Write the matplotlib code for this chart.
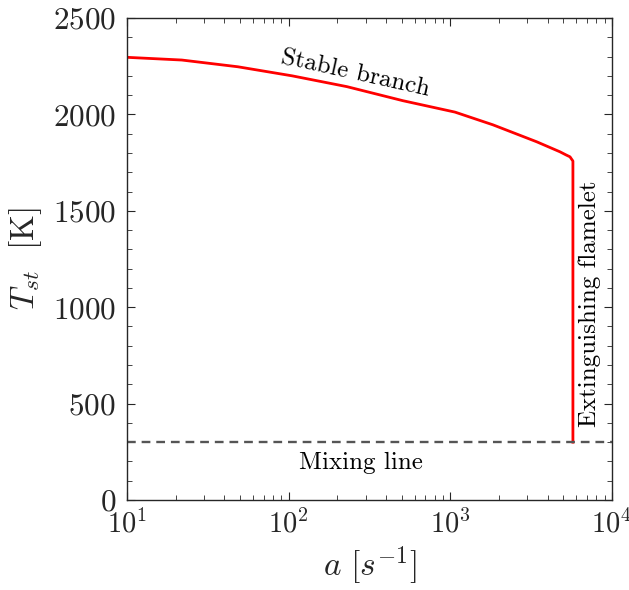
import numpy as np
import matplotlib
matplotlib.use("Agg")
import matplotlib.pyplot as plt
from matplotlib.ticker import MultipleLocator, LogLocator

plt.rcParams['font.family'] = 'serif'
plt.rcParams['font.serif'] = ['cmr10']
plt.rcParams['mathtext.fontset'] = 'cm'
plt.rcParams['axes.formatter.use_mathtext'] = True
plt.rcParams['axes.unicode_minus'] = False

# strain rate [1/s] and stoichiometric temperature [K] along the S-curve
strain_rate = [10, 21.8, 48.5, 105, 229, 509, 1067, 1833, 3420, 4764, 5190, 5495, 5730, 5730]
temp_st = [2296, 2282, 2247, 2200, 2144, 2071, 2012, 1946, 1858, 1806, 1790, 1780, 1758, 300]
mixing_temp = 300

fig = plt.figure(figsize=(6.29, 5.9), dpi=100)
ax = fig.add_axes([0.202, 0.1525, 0.771, 0.817])

ax.plot(strain_rate, temp_st, color='red', lw=2.0)
ax.axhline(mixing_temp, color='#555555', lw=1.7, ls=(0, (3.7, 2.5)))

ax.set_xscale('log')
ax.set_xlim(10, 1e4)
ax.set_ylim(0, 2500)
ax.yaxis.set_major_locator(MultipleLocator(500))
ax.yaxis.set_minor_locator(MultipleLocator(100))
ax.xaxis.set_major_locator(LogLocator(base=10, numticks=10))
ax.xaxis.set_minor_locator(LogLocator(base=10, subs=np.arange(2, 10), numticks=10))

dark = '#262626'
for s in ax.spines.values():
    s.set_color(dark)
    s.set_linewidth(1.0)
ax.tick_params(which='both', direction='in', top=True, right=True,
               color=dark, labelcolor=dark)
ax.tick_params(which='major', length=6)
ax.tick_params(which='minor', length=3.5)
ax.tick_params(axis='y', labelsize=22.5, pad=8)
ax.tick_params(axis='x', labelsize=20.5, pad=7)

ax.set_xlabel(r'$a\ [s^{-1}]$', fontsize=24, color=dark, labelpad=4)
ax.set_ylabel(r'$T_{st}\ \ [\mathrm{K}]$', fontsize=24, color=dark, labelpad=6)

ax.text(257, 2210, 'Stable branch', rotation=-12.5, fontsize=18,
        ha='center', va='center')
ax.text(7300, 1017, 'Extinguishing flamelet', rotation=90, fontsize=18,
        ha='center', va='center')
ax.text(280, 192, 'Mixing line', fontsize=18, ha='center', va='center')

fig.savefig('out.png', dpi=100)
